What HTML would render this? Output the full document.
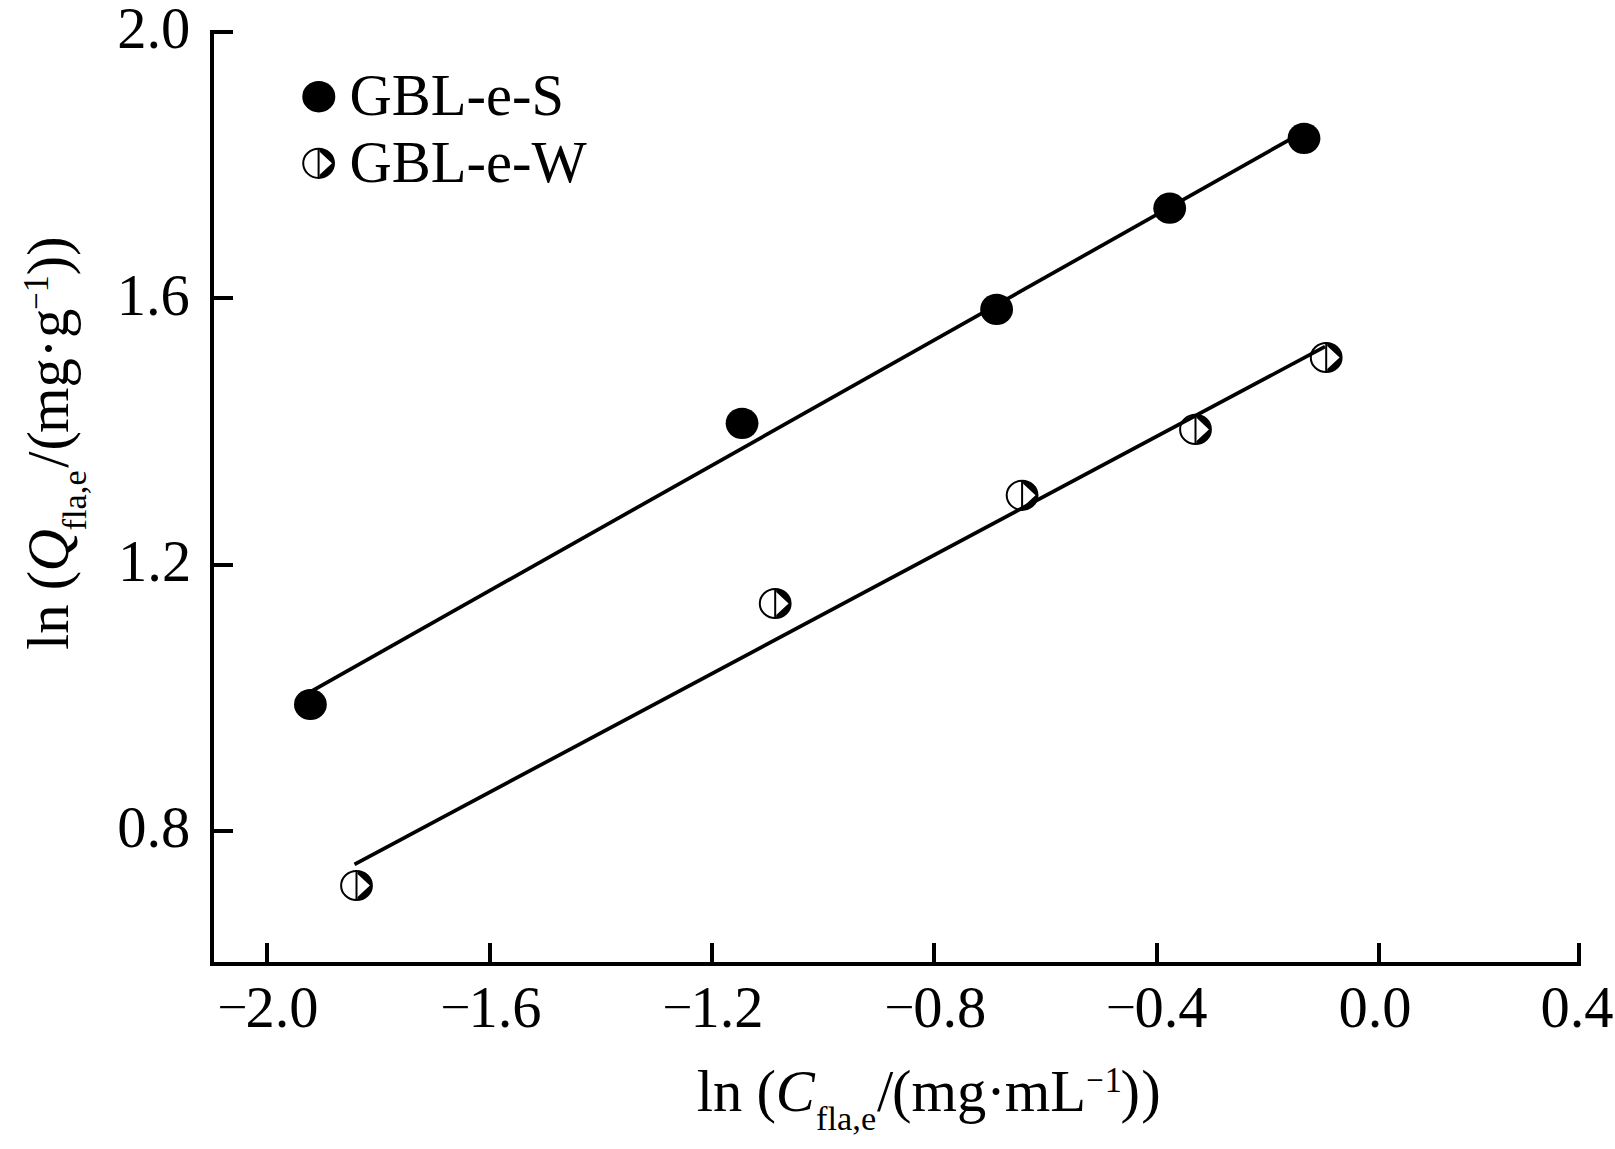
<!DOCTYPE html>
<html><head><meta charset="utf-8"><title>ln Q vs ln C</title>
<style>
html,body{margin:0;padding:0;background:#fff;}
body{width:1615px;height:1149px;overflow:hidden;}
svg{display:block;}
text{font-family:"Liberation Serif", "Times New Roman", serif;fill:#000;}
</style></head><body>
<svg width="1615" height="1149" viewBox="0 0 1615 1149">
<rect width="1615" height="1149" fill="#fff"/>
<g fill="#000" shape-rendering="crispEdges">
<rect x="210" y="30" width="4" height="936"/>
<rect x="210" y="962" width="1371" height="4"/>
<rect x="210" y="30" width="23" height="4"/>
<rect x="210" y="296" width="23" height="4"/>
<rect x="210" y="563" width="23" height="4"/>
<rect x="210" y="829" width="23" height="4"/>
<rect x="265" y="943" width="4" height="21"/>
<rect x="488" y="943" width="4" height="21"/>
<rect x="710" y="943" width="4" height="21"/>
<rect x="932" y="943" width="4" height="21"/>
<rect x="1155" y="943" width="4" height="21"/>
<rect x="1377" y="943" width="4" height="21"/>
<rect x="1577" y="943" width="4" height="21"/>
</g>
<line x1="309.00" y1="692.53" x2="1304.00" y2="131.55" stroke="#000" stroke-width="3.7"/>
<line x1="354.50" y1="864.30" x2="1325.00" y2="346.64" stroke="#000" stroke-width="3.7"/>
<ellipse cx="310.4" cy="704.5" rx="16.4" ry="15.6" fill="#000"/>
<ellipse cx="742.05" cy="423.35" rx="16.4" ry="15.6" fill="#000"/>
<ellipse cx="996.6" cy="309.4" rx="16.4" ry="15.6" fill="#000"/>
<ellipse cx="1169.7" cy="208.2" rx="16.4" ry="15.6" fill="#000"/>
<ellipse cx="1304" cy="138.35" rx="16.4" ry="15.6" fill="#000"/>
<ellipse cx="356.5" cy="885.5" rx="15.40" ry="14.60" fill="none" stroke="#000" stroke-width="2.0"/>
<rect x="355.50" y="870.90" width="2" height="29.20" fill="#000"/>
<path fill-rule="evenodd" fill="#000" d="M357.50 870.93 A15.40 14.60 0 0 1 357.50 900.07 Z M357.50 873.93 L369.90 885.50 L357.50 897.07 Z"/>
<ellipse cx="775.2" cy="603.5" rx="15.40" ry="14.60" fill="none" stroke="#000" stroke-width="2.0"/>
<rect x="774.20" y="588.90" width="2" height="29.20" fill="#000"/>
<path fill-rule="evenodd" fill="#000" d="M776.20 588.93 A15.40 14.60 0 0 1 776.20 618.07 Z M776.20 591.93 L788.60 603.50 L776.20 615.07 Z"/>
<ellipse cx="1022.1" cy="495.3" rx="15.40" ry="14.60" fill="none" stroke="#000" stroke-width="2.0"/>
<rect x="1021.10" y="480.70" width="2" height="29.20" fill="#000"/>
<path fill-rule="evenodd" fill="#000" d="M1023.10 480.73 A15.40 14.60 0 0 1 1023.10 509.87 Z M1023.10 483.73 L1035.50 495.30 L1023.10 506.87 Z"/>
<ellipse cx="1195.5" cy="429.4" rx="15.40" ry="14.60" fill="none" stroke="#000" stroke-width="2.0"/>
<rect x="1194.50" y="414.80" width="2" height="29.20" fill="#000"/>
<path fill-rule="evenodd" fill="#000" d="M1196.50 414.83 A15.40 14.60 0 0 1 1196.50 443.97 Z M1196.50 417.83 L1208.90 429.40 L1196.50 440.97 Z"/>
<ellipse cx="1326.2" cy="357.5" rx="15.40" ry="14.60" fill="none" stroke="#000" stroke-width="2.0"/>
<rect x="1325.20" y="342.90" width="2" height="29.20" fill="#000"/>
<path fill-rule="evenodd" fill="#000" d="M1327.20 342.93 A15.40 14.60 0 0 1 1327.20 372.07 Z M1327.20 345.93 L1339.60 357.50 L1327.20 369.07 Z"/>
<ellipse cx="318.8" cy="96.7" rx="16.5" ry="15.7" fill="#000"/>
<ellipse cx="318.6" cy="163.3" rx="15.40" ry="14.60" fill="none" stroke="#000" stroke-width="2.0"/>
<rect x="317.60" y="148.70" width="2" height="29.20" fill="#000"/>
<path fill-rule="evenodd" fill="#000" d="M319.60 148.73 A15.40 14.60 0 0 1 319.60 177.87 Z M319.60 151.73 L332.00 163.30 L319.60 174.87 Z"/>
<text transform="translate(349.50 115.00) scale(0.979 1.0)" font-size="59.8" text-anchor="start">GBL-e-S</text>
<text transform="translate(349.50 182.00) scale(0.979 1.0)" font-size="59.8" text-anchor="start">GBL-e-W</text>
<text transform="translate(190.30 47.70) scale(0.979 1.0)" font-size="59.8" text-anchor="end">2.0</text>
<text transform="translate(189.80 315.00) scale(0.979 1.0)" font-size="59.8" text-anchor="end">1.6</text>
<text transform="translate(191.20 580.90) scale(0.979 1.0)" font-size="59.8" text-anchor="end">1.2</text>
<text transform="translate(190.30 846.50) scale(0.979 1.0)" font-size="59.8" text-anchor="end">0.8</text>
<text transform="translate(245.40 1027.00) scale(0.979 1.0)" font-size="59.8" text-anchor="start">2.0</text>
<text transform="translate(217.40 1022.00) scale(0.89 0.75)" font-size="59.8" text-anchor="start">−</text>
<text transform="translate(468.40 1027.00) scale(0.979 1.0)" font-size="59.8" text-anchor="start">1.6</text>
<text transform="translate(440.40 1022.00) scale(0.89 0.75)" font-size="59.8" text-anchor="start">−</text>
<text transform="translate(690.40 1027.00) scale(0.979 1.0)" font-size="59.8" text-anchor="start">1.2</text>
<text transform="translate(662.40 1022.00) scale(0.89 0.75)" font-size="59.8" text-anchor="start">−</text>
<text transform="translate(913.20 1027.00) scale(0.979 1.0)" font-size="59.8" text-anchor="start">0.8</text>
<text transform="translate(884.40 1022.00) scale(0.89 0.75)" font-size="59.8" text-anchor="start">−</text>
<text transform="translate(1134.40 1027.00) scale(0.979 1.0)" font-size="59.8" text-anchor="start">0.4</text>
<text transform="translate(1105.90 1022.00) scale(0.89 0.75)" font-size="59.8" text-anchor="start">−</text>
<text transform="translate(1375.00 1027.00) scale(0.979 1.0)" font-size="59.8" text-anchor="middle">0.0</text>
<text transform="translate(1577.00 1027.00) scale(0.979 1.0)" font-size="59.8" text-anchor="middle">0.4</text>
<g transform="translate(696.70 1110.90)">
<text transform="translate(0.00 0.00) scale(0.979 1)" font-size="59.8">ln</text>
<text transform="translate(59.80 0.00) scale(0.979 1)" font-size="59.8">(</text>
<text transform="translate(79.00 0.00) scale(0.979 1)" font-size="59.8" font-style="italic">C</text>
<text transform="translate(119.40 19.50) scale(0.995 1)" font-size="34.5">fla,e</text>
<text transform="translate(180.40 0.00) scale(0.979 1)" font-size="59.8">/</text>
<text transform="translate(195.20 0.00) scale(0.979 1)" font-size="59.8">(mg</text>
<text transform="translate(289.50 0.00) scale(0.979 1)" font-size="59.8">·</text>
<text transform="translate(308.10 0.00) scale(0.979 1)" font-size="59.8">mL</text>
<text transform="translate(389.60 -18.60) scale(0.88 1)" font-size="35">−</text>
<text transform="translate(408.10 -18.60) scale(0.979 1)" font-size="35">1</text>
<text transform="translate(423.90 0.00) scale(0.979 1)" font-size="59.8">)</text>
<text transform="translate(444.50 0.00) scale(0.979 1)" font-size="59.8">)</text>
</g>
<g transform="translate(68.00 650.00) rotate(-90)">
<text transform="translate(0.00 0.00) scale(0.979 1)" font-size="59.8">ln</text>
<text transform="translate(59.80 0.00) scale(0.979 1)" font-size="59.8">(</text>
<text transform="translate(78.50 0.00) scale(0.979 1)" font-size="59.8" font-style="italic">Q</text>
<text transform="translate(119.60 18.40) scale(0.995 1)" font-size="34.5">fla,e</text>
<text transform="translate(182.20 0.00) scale(0.979 1)" font-size="59.8">/</text>
<text transform="translate(199.50 0.00) scale(0.979 1)" font-size="59.8">(</text>
<text transform="translate(216.90 0.00) scale(0.979 1)" font-size="59.8">mg</text>
<text transform="translate(291.70 0.00) scale(0.979 1)" font-size="59.8">·</text>
<text transform="translate(312.00 0.00) scale(0.979 1)" font-size="59.8">g</text>
<text transform="translate(340.20 -20.00) scale(0.88 1)" font-size="35">−</text>
<text transform="translate(357.70 -20.00) scale(0.979 1)" font-size="35">1</text>
<text transform="translate(374.40 0.00) scale(0.979 1)" font-size="59.8">))</text>
</g>
</svg>
</body></html>
